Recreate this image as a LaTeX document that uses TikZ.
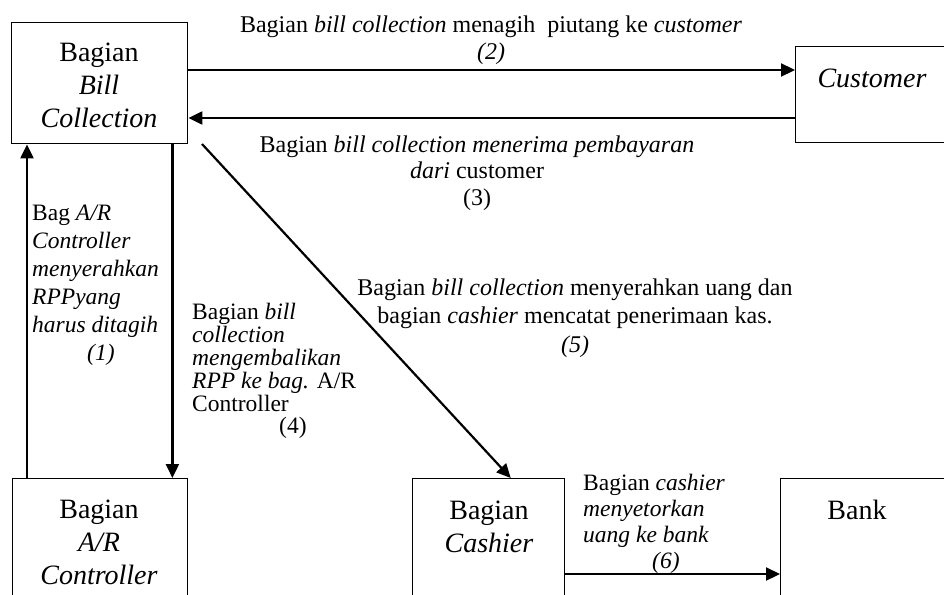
\documentclass[tikz,border=0pt]{standalone}
\usepackage{fontspec}
\setmainfont{Liberation Serif}
\usetikzlibrary{arrows.meta}
\begin{document}
\begin{tikzpicture}[x=1pt,y=-1pt,
  box/.style={draw, line width=1.4pt, inner sep=0pt, anchor=north west},
  boxtext/.style={font=\fontsize{28}{33}\selectfont, align=center, inner sep=0pt},
  lbl/.style={font=\fontsize{24}{27}\selectfont, align=center, inner sep=0pt},
  lbll/.style={font=\fontsize{24}{27}\selectfont, align=left, inner sep=0pt, anchor=north west},
  arr/.style={line width=2.2pt, -{Triangle[length=14pt,width=13pt]}}]
\clip (0,0) rectangle (944,594);
\fill[white] (0,0) rectangle (944,594);
% boxes
\node[box, minimum width=176pt, minimum height=121pt] (bc) at (11,22) {};
\node[box, minimum width=170pt, minimum height=96pt] (cust) at (795,46) {};
\node[box, minimum width=175pt, minimum height=150pt] (ar) at (12,478) {};
\node[box, minimum width=152pt, minimum height=150pt] (cash) at (412,478) {};
\node[box, minimum width=180pt, minimum height=150pt] (bank) at (780,478) {};
% box texts
\node[boxtext] (bct) at (99,85) {Bagian\\\textit{Bill}\\\textit{Collection}};
\node[boxtext] (custt) at (872,78) {\textit{Customer}};
\node[boxtext] (art) at (99,542) {Bagian\\\textit{A/R}\\\textit{Controller}};
\node[boxtext] (casht) at (489,527) {Bagian\\\textit{Cashier}};
\node[boxtext] (bankt) at (857,510) {Bank};
% helper coordinates
\coordinate (y2) at (0,70);
\coordinate (y3) at (0,118);
\coordinate (y6) at (0,574);
\coordinate (d5) at (202,144);
% connectors
\draw[arr] ([xshift=15pt]ar.north west) -- ([xshift=16pt]bc.south west);
\draw[arr] ([xshift=-16pt]bc.south east) -- ([xshift=-16pt]ar.north east);
\draw[arr] (bc.east |- y2) -- (cust.west |- y2);
\draw[arr] (cust.west |- y3) -- (bc.east |- y3);
\draw[arr] (d5) -- ([xshift=22pt]cash.north);
\draw[arr] (cash.east |- y6) -- (bank.west |- y6);
% labels
\node[lbl] (l2) at (491,40) {Bagian \textit{bill collection} menagih\ \ piutang ke \textit{customer}\\\textit{(2)}};
\node[lbl, font=\fontsize{24}{26.5}\selectfont] (l3) at (477,173) {Bagian \textit{bill collection menerima pembayaran}\\\textit{dari} customer\\(3)};
\node[lbl, font=\fontsize{24}{28.5}\selectfont] (l5) at (575,318) {Bagian \textit{bill collection} menyerahkan uang dan\\bagian \textit{cashier} mencatat penerimaan kas.\\\textit{(5)}};
\node[lbll, font=\fontsize{23.5}{28}\selectfont] (l1) at (32,205) {Bag \textit{A/R}\\\textit{Controller}\\\textit{menyerahkan}\\\textit{RPPyang}\\\textit{harus ditagih}\\\hspace*{55pt}\textit{(1)}};
\node[lbll, font=\fontsize{23.5}{23}\selectfont] (l4) at (192,303) {Bagian \textit{bill}\\\textit{collection}\\\textit{mengembalikan}\\\textit{RPP ke bag.} A/R\\Controller\\[-1pt]\hspace*{87pt}(4)};
\node[lbll, font=\fontsize{23.5}{26}\selectfont] (l6) at (583,474) {Bagian \textit{cashier}\\\textit{menyetorkan}\\\textit{uang ke bank}\\\hspace*{69pt}\textit{(6)}};
\end{tikzpicture}
\end{document}
